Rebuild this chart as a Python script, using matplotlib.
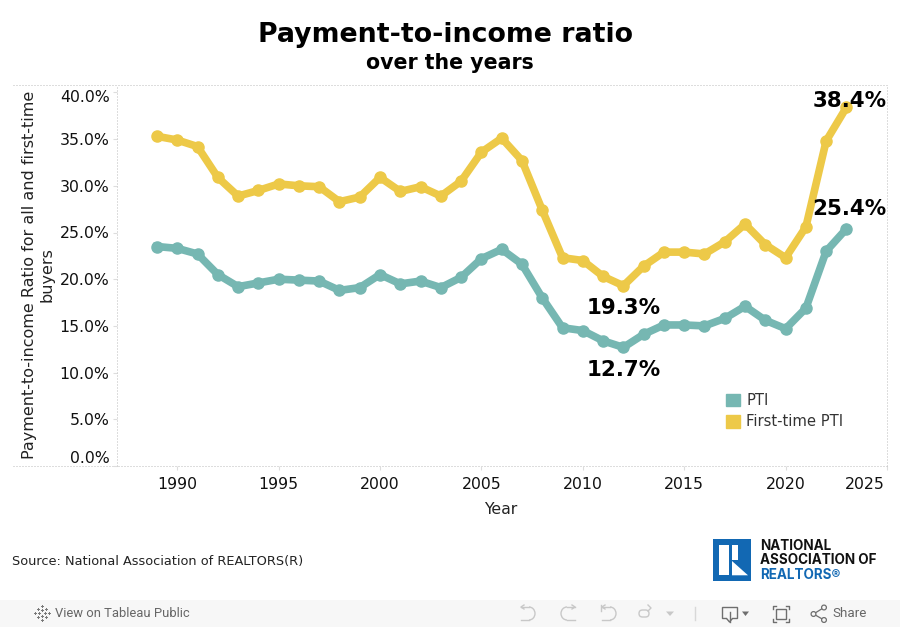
import matplotlib
matplotlib.use('Agg')
import matplotlib.pyplot as plt
from matplotlib.patches import Patch, Rectangle, Polygon, Circle, Arc, FancyBboxPatch
from matplotlib.transforms import ScaledTranslation

years = list(range(1989, 2024))
first_time_pti = [35.3, 34.9, 34.2, 30.9, 28.9, 29.5, 30.2, 30.0, 29.9, 28.3, 28.8, 30.9,
                  29.4, 29.9, 28.9, 30.5, 33.6, 35.1, 32.7, 27.4, 22.3, 22.0, 20.3, 19.3,
                  21.4, 22.9, 22.9, 22.7, 24.0, 25.9, 23.7, 22.3, 25.6, 34.8, 38.4]
pti = [23.5, 23.3, 22.7, 20.5, 19.2, 19.6, 20.0, 19.9, 19.8, 18.8, 19.1, 20.5,
       19.5, 19.8, 19.1, 20.2, 22.2, 23.2, 21.6, 18.0, 14.8, 14.5, 13.4, 12.7,
       14.1, 15.1, 15.1, 15.0, 15.8, 17.1, 15.6, 14.7, 16.9, 23.0, 25.4]
y_ticks = [0, 5, 10, 15, 20, 25, 30, 35, 40]
x_ticks = [1990, 1995, 2000, 2005, 2010, 2015, 2020, 2025]

TEAL = '#76B7B2'
YELLOW = '#EDC948'
GRID = '#bdbdbd'
DOTS = (0, (1, 2))
ICON = '#6e6e6e'
LIGHT = '#c8c8c8'
BLUE = '#1268B3'

W, H = 900, 627
fig = plt.figure(figsize=(9, 6.27), dpi=100)

# page furniture goes on an overlay in pixel coordinates
bg = fig.add_axes([0, 0, 1, 1])
bg.set_xlim(0, W)
bg.set_ylim(H, 0)
bg.axis('off')

left, right, top, bottom = 116.5, 887, 85, 466
ax = fig.add_axes([left / W, 1 - bottom / H, (right - left) / W, (bottom - top) / H])
ax.patch.set_alpha(0)
x0 = 1990 - (177.3 - left) / 20.3
ax.set_xlim(x0, x0 + (right - left) / 20.3)
ax.set_ylim(0, (bottom - top) / 9.34)

ax.plot(years, pti, color=TEAL, lw=5.5, marker='o', ms=8, solid_joinstyle='round', clip_on=False)
ax.plot(years, first_time_pti, color=YELLOW, lw=5.5, marker='o', ms=8, solid_joinstyle='round', clip_on=False)

ax.spines['top'].set_visible(False)
ax.spines['bottom'].set_visible(False)
for side in ('left', 'right'):
    s = ax.spines[side]
    s.set_color(GRID)
    s.set_linestyle(DOTS)
    s.set_linewidth(0.72)
    s.set_capstyle('butt')

for y_px in (top, bottom):
    bg.plot([13, right], [y_px, y_px], color=GRID, lw=0.72, ls=DOTS)

ax.set_yticks(y_ticks)
ax.set_yticklabels([f'{v:.1f}%' for v in y_ticks])
ax.set_xticks(x_ticks)
ax.tick_params(axis='y', labelsize=11.3, color='#dddddd', length=3, width=0.8, pad=2, labelcolor='#111111')
ax.tick_params(axis='x', labelsize=11.3, color='#dddddd', length=3, width=0.8, pad=5, labelcolor='#111111')


# tableau pushes the end labels back inside the pane
def nudge(label, dx=0, dy=0):
    label.set_transform(label.get_transform() + ScaledTranslation(dx / 100, dy / 100, fig.dpi_scale_trans))


ylabels = ax.get_yticklabels()
nudge(ylabels[0], dy=9)
nudge(ylabels[-1], dy=-4)
nudge(ax.get_xticklabels()[-1], dx=-22.5)

ax.set_xlabel('Year', fontsize=11.3, color='#222222')
ax.xaxis.set_label_coords((501 - left) / (right - left), (bottom - 502) / (bottom - top), transform=ax.transAxes)
ax.set_ylabel('Payment-to-income Ratio for all and first-time\nbuyers', fontsize=11.5, color='#222222', linespacing=1.25)
ax.yaxis.set_label_coords((55 - left) / (right - left), (bottom - 275) / (bottom - top), transform=ax.transAxes)

# value labels
for x, y, dx, dy in [(2023, 38.4, 2, 4.5), (2023, 25.4, 2, 14.3), (2012, 19.3, 0, -16), (2012, 12.7, 0, -16.5)]:
    ax.annotate(f'{y}%', (x, y), xytext=(dx, dy), textcoords='offset points', ha='center', va='center',
                fontsize=15.4, fontweight='bold', color='black', annotation_clip=False)

leg = ax.legend(handles=[Patch(color=TEAL, label='PTI'), Patch(color=YELLOW, label='First-time PTI')],
                loc='upper left', bbox_to_anchor=((726 - left) / (right - left), (bottom - 393) / (bottom - top)),
                frameon=False, fontsize=10.65, handlelength=0.95, handleheight=0.95, handletextpad=0.42,
                labelspacing=0.42, borderpad=0, borderaxespad=0)
for t in leg.get_texts():
    t.set_color('#333333')

# titles and source
bg.text(445, 35, 'Payment-to-income ratio', ha='center', va='center', fontsize=19.3, fontweight='bold', color='black')
bg.text(449.5, 63, 'over the years', ha='center', va='center', fontsize=14.8, fontweight='bold', color='black')
bg.text(12, 562, 'Source: National Association of REALTORS(R)', ha='left', va='center', fontsize=9.3, color='#222222')

# logo
bg.add_patch(Rectangle((713, 539), 37.5, 42, color=BLUE, lw=0))
bg.add_patch(Rectangle((719.3, 545.3), 9.5, 30, color='white', lw=0))
bg.add_patch(Rectangle((732, 545.3), 6, 14.5, color='white', lw=0))
bg.add_patch(Polygon([(732, 561), (748, 575.3), (732, 575.3)], closed=True, color='white', lw=0))
bg.text(760, 546, 'NATIONAL', fontsize=9.7, fontweight='bold', family='Inter', color='#111111', va='center')
bg.text(760, 560, 'ASSOCIATION OF', fontsize=9.7, fontweight='bold', family='Inter', color='#111111', va='center')
bg.text(760, 575, 'REALTORS®', fontsize=9.7, fontweight='bold', family='Inter', color=BLUE, va='center')

# toolbar
bg.add_patch(Rectangle((0, 600), W, 27, color='#f7f7f7', lw=0))
bg.text(55, 613.5, 'View on Tableau Public', fontsize=9.4, family='Roboto', color='#666666', va='center')
bg.text(832, 613.5, 'Share', fontsize=9.6, family='Roboto', color='#666666', va='center')
for dx, dy in [(-7, 0), (7, 0), (0, -7), (0, 7), (-4, -4), (4, -4), (-4, 4), (4, 4), (-3, 0), (3, 0), (0, -3), (0, 3)]:
    bg.plot([42 + dx - 1, 42 + dx + 1], [613 + dy, 613 + dy], color='#777777', lw=0.7)
    bg.plot([42 + dx, 42 + dx], [613 + dy - 1, 613 + dy + 1], color='#777777', lw=0.7)

# undo, redo, revert, refresh
for cx, flip in [(529, 1), (567, -1), (610, 1)]:
    bg.add_patch(Arc((cx, 613.5), 12, 13, theta1=-90 if flip == 1 else 90, theta2=90 if flip == 1 else 270, color=LIGHT, lw=1))
    bg.plot([cx - 8 * flip, cx], [607, 607], color=LIGHT, lw=1)
    bg.plot([cx - 8 * flip, cx], [620, 620], color=LIGHT, lw=1)
    bg.plot([cx - 5 * flip, cx - 8 * flip, cx - 5 * flip], [605, 607, 609], color=LIGHT, lw=1)
bg.plot([601, 601], [605, 611], color=LIGHT, lw=1)
bg.add_patch(FancyBboxPatch((639, 610), 10, 7, boxstyle='round,pad=0,rounding_size=3.5', fill=False, ec=LIGHT, lw=1))
bg.plot([648, 651, 648], [605, 608, 611], color=LIGHT, lw=1)
bg.add_patch(Polygon([(666, 611.5), (674, 611.5), (670, 616)], closed=True, color=LIGHT, lw=0))
bg.plot([695, 695], [607, 620], color='#d8d8d8', lw=1)

# download
bg.add_patch(Rectangle((722, 607), 15, 11, fill=False, ec=ICON, lw=1))
bg.add_patch(Rectangle((727, 616), 5, 4, color='#f7f7f7', lw=0, zorder=3))
bg.plot([729.5, 729.5], [612, 622], color=ICON, lw=1, zorder=4)
bg.plot([727, 729.5, 732], [619, 622, 619], color=ICON, lw=1, zorder=4)
bg.add_patch(Polygon([(742, 611.5), (749, 611.5), (745.5, 616)], closed=True, color=ICON, lw=0))

# fullscreen
bg.add_patch(Rectangle((776, 609), 10, 10, fill=False, ec=ICON, lw=1))
for xc, sx in [(773, 1), (789, -1)]:
    for yc, sy in [(606, 1), (622, -1)]:
        bg.plot([xc, xc, xc + 3 * sx], [yc + 3 * sy, yc, yc], color=ICON, lw=1)

# share
bg.plot([824, 813.5, 824], [607.5, 614, 620], color=ICON, lw=0.9)
for c in [(813.5, 614), (824, 607.5), (824, 620)]:
    bg.add_patch(Circle(c, 2.4, fc='#f7f7f7', ec=ICON, lw=0.9, zorder=3))

fig.savefig('out.png', dpi=100)
